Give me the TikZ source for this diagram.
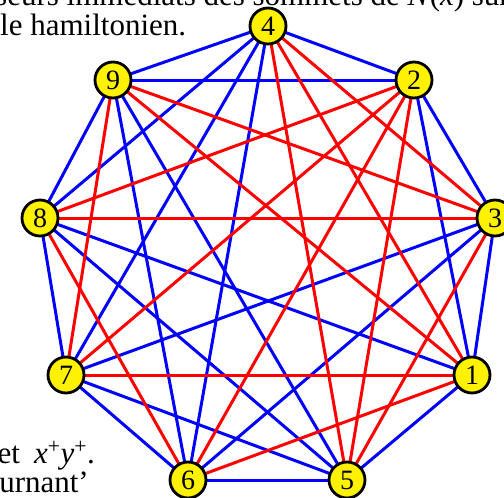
\documentclass[tikz,border=0pt]{standalone}
\usepackage{fontspec}
\setmainfont{Liberation Serif}
\usetikzlibrary{backgrounds}
\begin{document}
\begin{tikzpicture}[x=1pt,y=-1pt,
  vtx/.style={circle,draw=black,line width=2.8pt,fill=yellow,minimum size=36pt,inner sep=0pt,font=\fontsize{28}{28}\selectfont},
  bl/.style={draw=blue,line width=3pt},
  rd/.style={draw=red,line width=3pt},
  txt/.style={inner sep=0pt,text=black,font=\fontsize{31}{31}\selectfont}]
\useasboundingbox (0,0) rectangle (504,498);
% text fragments (cut at the edges, as in the reference)
\node[txt,anchor=base east] (t1) at (510,5) {successeurs immédiats des sommets de \textit{N}(\textit{x}) sur};
\node[txt,anchor=base west] (t2) at (0,35) {le hamiltonien.};
\node[txt,anchor=base east] (t3) at (95,463) {et\hspace{0.45em}\textit{x}\textsuperscript{+}\textit{y}\textsuperscript{+}.};
\node[txt,anchor=base east] (t4) at (89,492) {tournant’};
% vertices
\node[vtx] (n4) at (268,26) {4};
\node[vtx] (n2) at (414,80) {2};
\node[vtx] (n3) at (495,218) {3};
\node[vtx] (n1) at (472,375) {1};
\node[vtx] (n5) at (347,480) {5};
\node[vtx] (n6) at (188,480) {6};
\node[vtx] (n7) at (66,375) {7};
\node[vtx] (n8) at (40,218) {8};
\node[vtx] (n9) at (113,80) {9};
\begin{scope}[on background layer]
% blue edges
\foreach \a/\b in {4/9,4/2,4/8,4/7,4/6,9/2,9/8,9/6,9/5,2/3,2/1,3/1,3/7,3/6,1/8,1/5,5/6,5/7,5/8,6/7,7/8}
  \draw[bl] (n\a.center) -- (n\b.center);
% red edges
\foreach \a/\b in {4/5,4/1,4/3,9/7,9/1,9/3,2/8,2/7,2/6,2/5,3/8,3/5,1/7,1/6,6/8}
  \draw[rd] (n\a.center) -- (n\b.center);
\end{scope}
\end{tikzpicture}
\end{document}
